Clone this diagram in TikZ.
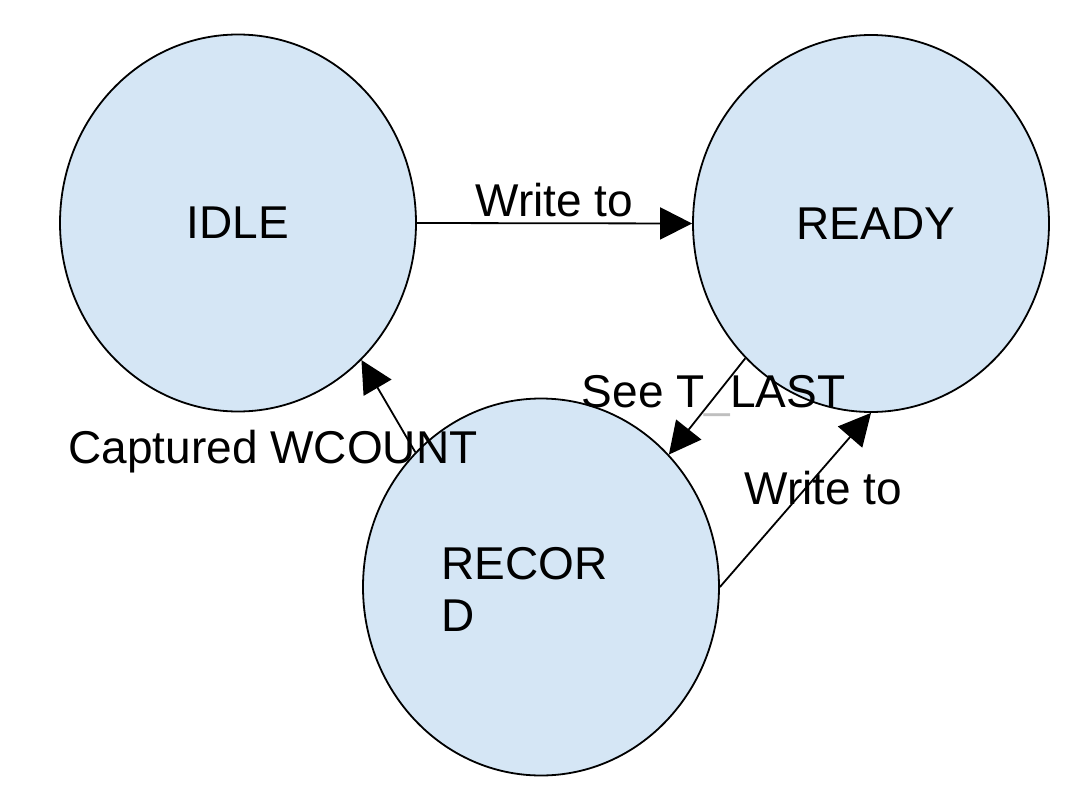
\documentclass[tikz,border=0pt]{standalone}
\usepackage{fontspec}
\setmainfont{Liberation Sans}
\usetikzlibrary{shapes.geometric,arrows.meta}
\definecolor{statefill}{RGB}{213,230,245}
\begin{document}
\begin{tikzpicture}[x=1pt,y=-1pt,
  font=\fontsize{46}{52}\selectfont,
  state/.style={ellipse,draw=black,line width=1.8pt,fill=statefill,
    minimum width=356pt,minimum height=377pt,inner sep=0pt},
  trans/.style={line width=1.8pt,-{Triangle[length=32pt,width=32pt]}},
  lbl/.style={inner sep=0pt,anchor=base}]
\useasboundingbox (0,0) rectangle (1085,803);
\node[state] (idle) at (238,223) {\raisebox{-2pt}{IDLE}};
\node[state] (ready) at (871,223.5) {\hspace{10pt}\raisebox{-2pt}{READY}};
\node[state] (record) at (541,587) {};
\node[inner sep=0pt,anchor=north west,align=left] (recordtext) at (441,547) {RECOR\\D};
\draw[trans] (idle.east) -- (ready.west);
\draw[trans] (ready.227) -- (record.46.5);
\draw[trans] (record.0) -- (ready.270);
\draw[trans] (record.133) -- (idle.312.5);
\node[lbl] (lwrite1) at (554.5,216) {Write to};
\node[lbl] (lsee) at (713.5,407) {See T\textcolor{black!25}{\_}LAST};
\node[lbl] (lcap) at (273,463) {Captured WCOUNT};
\node[lbl] (lwrite2) at (823.5,504) {Write to};
\end{tikzpicture}
\end{document}
